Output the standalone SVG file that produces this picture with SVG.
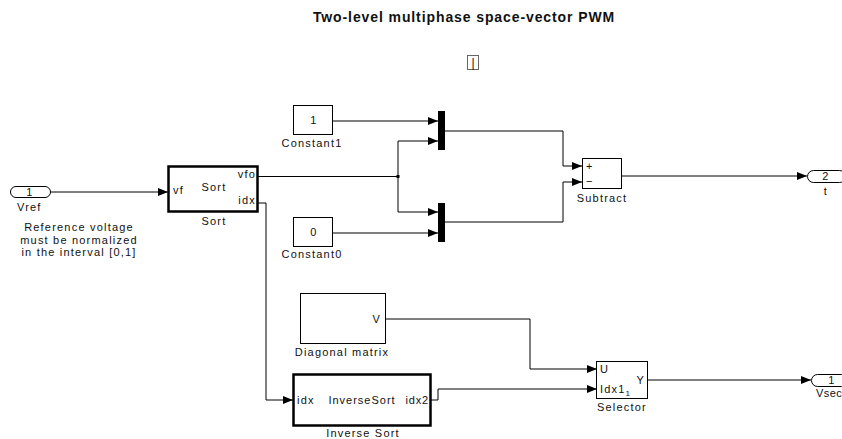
<svg xmlns="http://www.w3.org/2000/svg" width="842" height="439" viewBox="0 0 842 439">
<defs>
<marker id="arr" markerWidth="10" markerHeight="8" refX="10" refY="4" orient="auto" markerUnits="userSpaceOnUse">
<path d="M0,0 L10,4 L0,8 Z" fill="#000"/>
</marker>
<style>
text{font-family:"Liberation Sans",Arial,sans-serif;font-size:11px;letter-spacing:1.2px;fill:#111}
.blk{fill:#fff;stroke:#000;stroke-width:1}
.thick{fill:#fff;stroke:#000;stroke-width:2.5}
.w{fill:none;stroke:#000;stroke-width:1}
.wa{fill:none;stroke:#000;stroke-width:1;marker-end:url(#arr)}
.c{text-anchor:middle}
.r{text-anchor:end}
.bar{fill:#000}
</style>
</defs>
<rect width="842" height="439" fill="#fff"/>
<text x="464" y="22" class="c" style="font-size:14px;font-weight:bold;letter-spacing:0.9px">Two-level multiphase space-vector PWM</text>
<g id="annot">
<rect x="467.5" y="55.5" width="11" height="14" fill="#fff" stroke="#666"/>
<text x="473" y="67" class="c" style="font-size:12px;letter-spacing:0">|</text>
</g>

<g id="connectors">
<path class="wa" d="M50,192 H168"/>
<path class="w" d="M258,176.5 H398"/>
<path class="wa" d="M398,176.5 V141 H438"/>
<path class="wa" d="M398,176.5 V212 H438"/>
<path class="wa" d="M333,121 H438"/>
<path class="wa" d="M333,233 H438"/>
<path class="wa" d="M445,131 H563 V166 H582"/>
<path class="wa" d="M445,222 H563 V182 H582"/>
<path class="wa" d="M622,176 H807"/>
<path class="wa" d="M258,203 H266 V400 H293"/>
<path class="wa" d="M386,319 H530 V369 H597"/>
<path class="wa" d="M431,400 H438 V389 H597"/>
<path class="wa" d="M648,380 H811"/>
<rect x="396.5" y="175" width="3" height="3" fill="#000"/>
</g>

<g id="Vref">
<rect x="10.5" y="186.5" width="40" height="11" rx="5.5" class="blk"/>
<text x="30" y="196" class="c">1</text>
<text x="17" y="211">Vref</text>
</g>
<g id="note">
<text x="79" y="231" class="c">Reference voltage</text>
<text x="79" y="243.5" class="c">must be normalized</text>
<text x="79" y="256" class="c">in the interval [0,1]</text>
</g>

<g id="Sort">
<rect x="168.5" y="166.5" width="89" height="45" class="thick"/>
<text x="173" y="194">vf</text>
<text x="214" y="191" class="c">Sort</text>
<text x="256" y="178" class="r">vfo</text>
<text x="256" y="204" class="r">idx</text>
<text x="214" y="225" class="c">Sort</text>
</g>

<g id="Constant1">
<rect x="293.5" y="105.5" width="39" height="29" class="blk"/>
<text x="314" y="124" class="c">1</text>
<text x="312" y="147" class="c">Constant1</text>
</g>
<g id="Constant0">
<rect x="293.5" y="217.5" width="39" height="29" class="blk"/>
<text x="314" y="236" class="c">0</text>
<text x="312" y="258" class="c">Constant0</text>
</g>

<g id="Mux1"><rect x="438" y="111" width="7" height="39" class="bar"/></g>
<g id="Mux2"><rect x="438" y="203" width="7" height="39" class="bar"/></g>

<g id="Subtract">
<rect x="582.5" y="158.5" width="39" height="30" class="blk"/>
<text x="586" y="170">+</text>
<text x="586" y="185">−</text>
<text x="602" y="202" class="c">Subtract</text>
</g>

<g id="Out_t">
<rect x="807.5" y="170.5" width="38" height="12" rx="6" class="blk"/>
<text x="826" y="180" class="c">2</text>
<text x="826" y="195" class="c">t</text>
</g>

<g id="Diagonal">
<rect x="300.5" y="293.5" width="85" height="50" class="blk"/>
<text x="381" y="323" class="r">V</text>
<text x="342" y="356" class="c">Diagonal matrix</text>
</g>

<g id="InverseSort">
<rect x="293.5" y="374.5" width="137" height="51" class="thick"/>
<text x="297" y="404">idx</text>
<text x="362" y="404" class="c" style="letter-spacing:1px">InverseSort</text>
<text x="429" y="404" class="r" style="letter-spacing:0.8px">idx2</text>
<text x="363" y="437" class="c">Inverse Sort</text>
</g>

<g id="Selector">
<rect x="596.5" y="361.5" width="51" height="37" class="blk"/>
<text x="600" y="373">U</text>
<text x="600" y="393">Idx1<tspan dy="3" style="font-size:8px">1</tspan></text>
<text x="645" y="384" class="r">Y</text>
<text x="622" y="411" class="c">Selector</text>
</g>

<g id="Out_Vsec">
<rect x="811.5" y="374.5" width="36" height="12" rx="6" class="blk"/>
<text x="832" y="384" class="c">1</text>
<text x="816" y="397" style="letter-spacing:0.4px">Vsec</text>
</g>
</svg>
